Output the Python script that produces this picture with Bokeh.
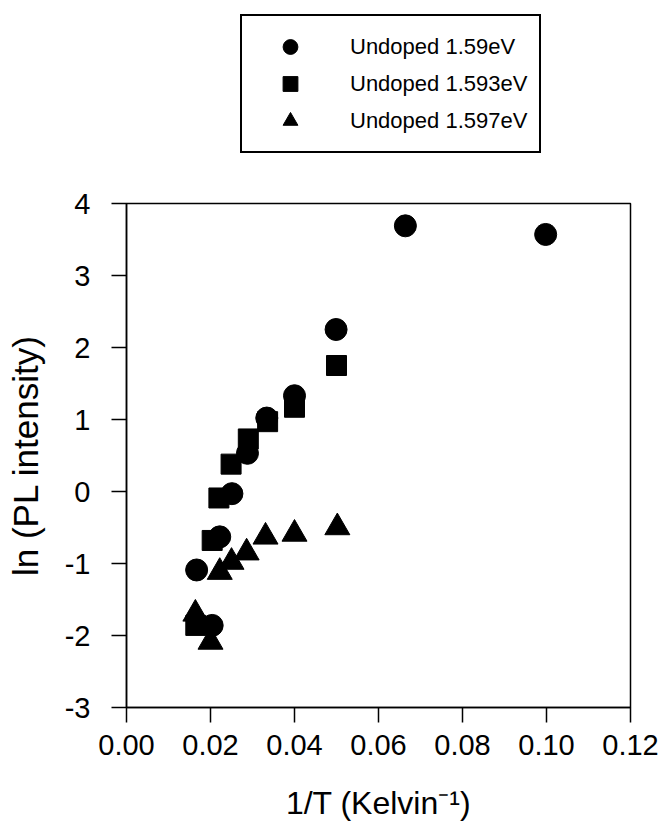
from bokeh.plotting import figure
from bokeh.layouts import column
from bokeh.models import (Legend, LegendItem, Range1d, FixedTicker, NumeralTickFormatter,
                          PrintfTickFormatter)
from bokeh.embed import file_html
from bokeh.resources import INLINE

# Undoped 1.59eV (circles)
circ_x = [0.0167, 0.0204, 0.0222, 0.0251, 0.0288, 0.0334, 0.0400, 0.0499, 0.0664, 0.0998]
circ_y = [-1.09, -1.86, -0.63, -0.03, 0.53, 1.02, 1.33, 2.25, 3.69, 3.57]
# Undoped 1.593eV (squares)
sq_x = [0.0165, 0.0204, 0.0220, 0.0249, 0.0290, 0.0336, 0.0400, 0.0500]
sq_y = [-1.86, -0.68, -0.09, 0.38, 0.73, 0.97, 1.17, 1.75]
# Undoped 1.597eV (triangles)
tri_x = [0.0164, 0.0200, 0.0222, 0.0250, 0.0286, 0.0331, 0.0400, 0.0502]
tri_y = [-1.70, -2.09, -1.12, -0.98, -0.85, -0.63, -0.59, -0.50]

labels = ["Undoped 1.59eV", "Undoped 1.593eV", "Undoped 1.597eV"]
markers = ["circle", "square", "triangle"]
x_ticks = [0.00, 0.02, 0.04, 0.06, 0.08, 0.10, 0.12]
y_ticks = [-3, -2, -1, 0, 1, 2, 3, 4]

FONT = "Liberation Sans"
NAN = float("nan")

# ---- legend strip (separate figure so the legend is not clipped) ----
lf = figure(width=663, height=180, output_backend="svg", toolbar_location=None,
            x_axis_type=None, y_axis_type=None, min_border=0,
            x_range=Range1d(0, 1), y_range=Range1d(0, 1))
lf.grid.visible = False
lf.outline_line_color = None
lf.background_fill_color = "white"
lf.border_fill_color = "white"
# one hidden (NaN) point each, so that the legend glyphs get drawn
proxies = [lf.scatter(x=[NAN], y=[NAN], marker=m, size=20, color="black") for m in markers]
legend = Legend(items=[LegendItem(label=l, renderers=[r]) for l, r in zip(labels, proxies)],
                location=(114, 27), orientation="vertical", padding=12, spacing=0,
                glyph_width=72, glyph_height=37, label_standoff=24, label_height=37,
                label_text_font=FONT, label_text_font_size="22px",
                label_text_color="black", label_text_baseline="middle",
                border_line_color="black", border_line_width=2, border_line_alpha=1.0,
                background_fill_color="white", background_fill_alpha=1, margin=0)
lf.add_layout(legend)

# ---- main plot ----
p = figure(frame_width=504, frame_height=504, output_backend="svg", toolbar_location=None,
           x_range=Range1d(0, 0.12), y_range=Range1d(-3, 4),
           min_border_left=126, min_border_right=33, min_border_top=23, min_border_bottom=108)
p.grid.visible = False
p.outline_line_color = "black"
p.outline_line_width = 1.5
p.outline_line_alpha = 1.0
p.background_fill_color = "white"
p.border_fill_color = "white"

r1 = p.scatter(circ_x, circ_y, marker="circle", size=22, color="black")
r2 = p.scatter(sq_x, sq_y, marker="square", size=20, color="black")
r3 = p.scatter(tri_x, tri_y, marker="triangle", size=25, color="black")

for ax in (p.xaxis[0], p.yaxis[0]):
    ax.axis_line_width = 1.5
    ax.axis_line_color = "black"
    ax.major_tick_line_width = 1.5
    ax.major_tick_line_color = "black"
    ax.major_tick_out = 15
    ax.major_tick_in = 0
    ax.minor_tick_line_color = None
    ax.major_label_text_font = FONT
    ax.major_label_text_font_size = "29px"
    ax.major_label_text_color = "black"
    ax.axis_label_text_font = FONT
    ax.axis_label_text_font_style = "normal"
    ax.axis_label_text_color = "black"

p.xaxis.ticker = FixedTicker(ticks=x_ticks)
p.xaxis.formatter = NumeralTickFormatter(format="0.00")
p.xaxis.major_label_standoff = 12
p.xaxis.axis_label = "1/T (Kelvin\u207b\u00b9)"
p.xaxis.axis_label_text_font_size = "32px"
p.xaxis.axis_label_standoff = 27

p.yaxis.ticker = FixedTicker(ticks=y_ticks)
p.yaxis.formatter = PrintfTickFormatter(format="%d")
p.yaxis.major_label_standoff = 21
p.yaxis.axis_label = "ln (PL intensity)"
p.yaxis.axis_label_text_font_size = "35px"
p.yaxis.axis_label_standoff = 17

layout = column(lf, p, spacing=0)
open("out.html", "w").write(file_html(layout, INLINE))
